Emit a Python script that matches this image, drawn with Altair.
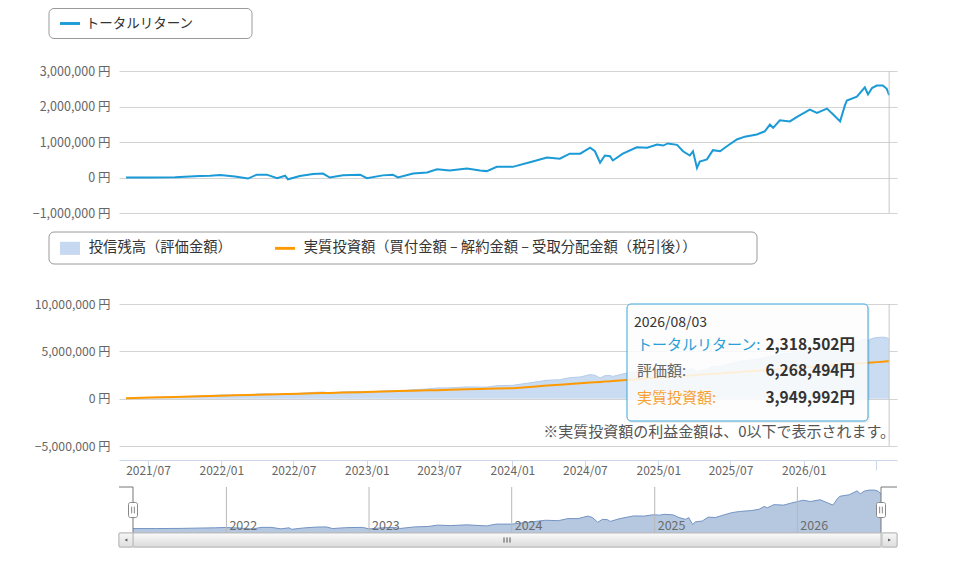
import altair as alt
import pandas as pd

FONT = "Noto Sans CJK JP"

# ---------------- data ----------------
dates = ["2021-05-07","2021-07-06","2021-09-07","2021-11-08","2021-12-04","2021-12-29","2022-02-04","2022-03-09",
         "2022-03-31","2022-04-25","2022-05-21","2022-06-10","2022-06-17","2022-07-17","2022-08-19","2022-09-13",
         "2022-09-30","2022-11-02","2022-12-15","2023-01-01","2023-02-10","2023-03-07","2023-03-20","2023-04-27",
         "2023-06-01","2023-06-26","2023-07-28","2023-09-09","2023-10-12","2023-10-29","2023-11-23","2024-01-02",
         "2024-02-14","2024-03-28","2024-04-29","2024-05-24","2024-06-19","2024-07-14","2024-07-26","2024-08-08",
         "2024-08-20","2024-09-02","2024-09-09","2024-10-04","2024-11-08","2024-12-04","2024-12-29","2025-01-13",
         "2025-01-25","2025-02-17","2025-03-04","2025-03-21","2025-03-29","2025-04-08","2025-04-15","2025-05-03",
         "2025-05-18","2025-06-05","2025-06-22","2025-07-17","2025-08-06","2025-09-05","2025-09-25","2025-10-08",
         "2025-10-16","2025-11-02","2025-11-27","2025-12-15","2026-01-16","2026-02-03","2026-02-28","2026-03-15",
         "2026-04-02","2026-04-14","2026-04-19","2026-05-14","2026-06-03","2026-06-11","2026-06-21","2026-07-03",
         "2026-07-18","2026-07-28","2026-08-03"]

total_return = [0, 0, 10000, 40000, 50000, 70000, 30000, -30000, 80000, 80000,
                -20000, 50000, -50000, 40000, 100000, 110000, 0, 60000, 80000, -20000,
                60000, 80000, 0, 110000, 140000, 230000, 200000, 250000, 200000, 180000,
                300000, 300000, 430000, 560000, 530000, 670000, 670000, 840000, 740000, 420000,
                620000, 600000, 480000, 670000, 850000, 840000, 930000, 900000, 960000, 920000,
                740000, 620000, 740000, 270000, 450000, 510000, 770000, 740000, 880000, 1070000,
                1150000, 1210000, 1300000, 1490000, 1400000, 1610000, 1580000, 1710000, 1910000, 1820000,
                1940000, 1780000, 1580000, 2030000, 2170000, 2280000, 2540000, 2340000, 2520000, 2590000,
                2590000, 2500000, 2318502]

invested = [50000, 120000, 180000, 250000, 280000, 310000, 350000, 380000, 410000, 440000,
            470000, 490000, 490000, 530000, 560000, 590000, 610000, 650000, 690000, 710000,
            750000, 780000, 800000, 840000, 880000, 900000, 940000, 990000, 1020000, 1040000,
            1070000, 1110000, 1240000, 1380000, 1470000, 1550000, 1620000, 1700000, 1730000, 1770000,
            1810000, 1840000, 1870000, 1940000, 2040000, 2130000, 2200000, 2240000, 2280000, 2350000,
            2400000, 2460000, 2470000, 2500000, 2530000, 2580000, 2630000, 2670000, 2730000, 2800000,
            2870000, 2960000, 3010000, 3050000, 3080000, 3120000, 3210000, 3260000, 3350000, 3410000,
            3480000, 3530000, 3580000, 3620000, 3640000, 3710000, 3770000, 3790000, 3830000, 3860000,
            3910000, 3940000, 3949992]

valuation = [50000, 120000, 190000, 290000, 330000, 380000, 380000, 350000, 490000, 520000,
             450000, 540000, 440000, 570000, 660000, 700000, 610000, 710000, 770000, 690000,
             810000, 860000, 800000, 950000, 1020000, 1130000, 1140000, 1240000, 1220000, 1220000,
             1370000, 1410000, 1670000, 1940000, 2000000, 2220000, 2290000, 2540000, 2470000, 2190000,
             2430000, 2440000, 2350000, 2610000, 2890000, 2970000, 3130000, 3140000, 3240000, 3270000,
             3140000, 3080000, 3210000, 2770000, 2980000, 3090000, 3400000, 3410000, 3610000, 3870000,
             4020000, 4170000, 4310000, 4540000, 4480000, 4730000, 4790000, 4970000, 5260000, 5230000,
             5420000, 5310000, 5160000, 5650000, 5810000, 5990000, 6310000, 6130000, 6350000, 6450000,
             6500000, 6440000, 6268494]

nav_years = ["2022-01-01", "2023-01-01", "2024-01-01", "2025-01-01", "2026-01-01"]
nav_year_labels = ["2022", "2023", "2024", "2025", "2026"]
x_tick_months = [(2021, 7), (2022, 1), (2022, 7), (2023, 1), (2023, 7), (2024, 1),
                 (2024, 7), (2025, 1), (2025, 7), (2026, 1), (2026, 7)]
top_ticks = [-1000000, 0, 1000000, 2000000, 3000000]
bottom_ticks = [-5000000, 0, 5000000, 10000000]
legend1_labels = ["トータルリターン"]
legend2_labels = ["投信残高（評価金額）", "実質投資額（買付金額 – 解約金額 – 受取分配金額（税引後））"]
tooltip_labels = ["トータルリターン:", "評価額:", "実質投資額:"]
footnote = "※実質投資額の利益金額は、0以下で表示されます。"

# ---------------- colours ----------------
C_TR = "#1a9ad6"
C_INV = "#ff9900"
C_AREA = "#cadcf2"
C_AREA_LINE = "#b6cce9"
C_NAV_FILL = "#b6c8e0"
C_NAV_LINE = "#7394c4"
C_GRID = "#d3d3d3"
C_LABEL = "#666666"

df = pd.DataFrame({"date": dates, "tr": total_return, "inv": invested, "val": valuation})
end_date = dates[-1]
start_date = dates[0]

# ---------------- scales ----------------
x_main = alt.Scale(domain=[alt.DateTime(year=2021, month=4, date=19, hours=8),
                           alt.DateTime(year=2026, month=8, date=22, hours=17)], nice=False)
x_nav = alt.Scale(domain=[alt.DateTime(year=2021, month=5, date=7),
                          alt.DateTime(year=2026, month=8, date=3)], range=[14, 762], nice=False)
y_top = alt.Scale(domain=[-1000000, 3000000], range=[205, 63], nice=False)
y_bot = alt.Scale(domain=[-5000000, 10000000], range=[438, 296], nice=False)
y_nav = alt.Scale(domain=[-300000, 2800000], range=[525, 479], nice=False)

yen_expr = "format(datum.value, ',') + ' 円'"
top_axis = alt.Axis(values=top_ticks, orient="left", domain=False, ticks=False, grid=True,
                    gridColor=C_GRID, labelExpr=yen_expr, labelFont=FONT, labelFontSize=12.5,
                    labelColor=C_LABEL, labelPadding=9, title=None)
bot_axis = alt.Axis(values=bottom_ticks, orient="left", domain=False, ticks=False, grid=True,
                    gridColor=C_GRID, labelExpr=yen_expr, labelFont=FONT, labelFontSize=12.2,
                    labelColor=C_LABEL, labelPadding=9, title=None)
x_axis = alt.Axis(values=[alt.DateTime(year=y, month=m, date=1) for y, m in x_tick_months],
                  orient="bottom", format="%Y/%m",
                  labelExpr="(year(datum.value) == 2026 && month(datum.value) == 6) ? '' : datum.label",
                  domainColor="#ccd6eb", tickColor="#ccd6eb", tickSize=10, labelPadding=-5,
                  labelFlush=False, labelOverlap=False, labelBound=False, grid=False,
                  labelFont=FONT, labelFontSize=12, labelColor=C_LABEL, title=None)

X = lambda **kw: alt.X("date:T", scale=x_main, **({"axis": None} | kw))
XN = lambda: alt.X("date:T", scale=x_nav, axis=None)

one = pd.DataFrame({"k": [0]})

# ---------------- legend frames ----------------
leg_box1 = alt.Chart(one).mark_rect(cornerRadius=5, fill="white", stroke="#9a9a9a", strokeWidth=1).encode(
    x=alt.value(-70), x2=alt.value(133), y=alt.value(0.5), y2=alt.value(30.5))
leg_box2 = alt.Chart(one).mark_rect(cornerRadius=5, fill="white", stroke="#9a9a9a", strokeWidth=1).encode(
    x=alt.value(-70), x2=alt.value(638), y=alt.value(224), y2=alt.value(256))

# ---------------- top panel ----------------
top_line = alt.Chart(df).mark_line(color=C_TR, strokeWidth=2).encode(
    x=X(), y=alt.Y("tr:Q", scale=y_top, axis=top_axis))
cross_top = alt.Chart(pd.DataFrame({"date": [end_date], "a": [3000000], "b": [-1000000]})).mark_rule(
    color="#c8c8c8").encode(x=X(), y=alt.Y("a:Q", scale=y_top, axis=None), y2="b:Q")

# ---------------- bottom panel ----------------
area = alt.Chart(df).mark_area(color=C_AREA, opacity=1,
                               line={"color": C_AREA_LINE, "strokeWidth": 1}).encode(
    x=X(axis=x_axis), y=alt.Y("val:Q", scale=y_bot, axis=bot_axis), y2=alt.datum(0))
inv_line = alt.Chart(df).mark_line(color=C_INV, strokeWidth=2).encode(
    x=X(), y=alt.Y("inv:Q", scale=y_bot, axis=None))
cross_bot = alt.Chart(pd.DataFrame({"date": [end_date], "a": [10000000], "b": [-5000000]})).mark_rule(
    color="#c8c8c8").encode(x=X(), y=alt.Y("a:Q", scale=y_bot, axis=None), y2="b:Q")
note = alt.Chart(one).mark_text(align="right", baseline="middle", font=FONT, fontSize=15,
                                color="#555555").encode(
    x=alt.value(776), y=alt.value(424), text=alt.value(footnote))

# ---------------- tooltip ----------------
tip_shadow = alt.Chart(one).mark_rect(cornerRadius=4, fill="black", fillOpacity=0.06).encode(
    x=alt.value(509), x2=alt.value(751), y=alt.value(297), y2=alt.value(415))
tip_box = alt.Chart(one).mark_rect(cornerRadius=4, fill="white", fillOpacity=0.85,
                                   stroke="#3aa4d8", strokeWidth=1).encode(
    x=alt.value(508), x2=alt.value(749), y=alt.value(296), y2=alt.value(413))
tip_date = alt.Chart(one).mark_text(align="left", baseline="middle", font=FONT, fontSize=14,
                                    color="#333333").encode(
    x=alt.value(515), y=alt.value(314.5), text=alt.value(end_date.replace("-", "/")))
tip_rows = []
for i, (lab, val, col) in enumerate(zip(tooltip_labels,
                                        [total_return[-1], valuation[-1], invested[-1]],
                                        ["#2a9fd6", "#666666", "#f7a133"])):
    yy = 337 + 26.3 * i
    tip_rows.append(alt.Chart(one).mark_text(align="left", baseline="middle", font=FONT, fontSize=15,
                                             color=col).encode(
        x=alt.value(518), y=alt.value(yy), text=alt.value(lab)))
    tip_rows.append(alt.Chart(one).mark_text(align="right", baseline="middle", font=FONT, fontSize=15.5,
                                             fontWeight="bold", color="#333333").encode(
        x=alt.value(736), y=alt.value(yy), text=alt.value(f"{val:,}円")))

# ---------------- navigator ----------------
nav_area = alt.Chart(df).mark_area(color=C_NAV_FILL, opacity=1,
                                   line={"color": C_NAV_LINE, "strokeWidth": 1}).encode(
    x=XN(), y=alt.Y("tr:Q", scale=y_nav, axis=None), y2=alt.datum(-300000))
yrs = pd.DataFrame({"date": nav_years, "lab": nav_year_labels})
nav_grid = alt.Chart(yrs).mark_rule(color="#b8b8b8", strokeWidth=1).encode(
    x=XN(), y=alt.value(479), y2=alt.value(525))
nav_text = alt.Chart(yrs).mark_text(align="left", baseline="alphabetic", dx=3, font=FONT,
                                    fontSize=12.5, color="#6b6b6b").encode(
    x=XN(), y=alt.value(522), text="lab:N")
ends = pd.DataFrame({"date": [start_date, end_date]})
nav_vert = alt.Chart(ends).mark_rule(color="#777777").encode(
    x=XN(), y=alt.value(479), y2=alt.value(525))
nav_top_l = alt.Chart(ends.iloc[[0]]).mark_rule(color="#777777").encode(
    x=XN(), x2=alt.value(0), y=alt.value(479))
nav_top_r = alt.Chart(ends.iloc[[1]]).mark_rule(color="#777777").encode(
    x=XN(), x2=alt.value(778), y=alt.value(479))

# scrollbar
def grad(c1, c2):
    return alt.Gradient(gradient="linear", x1=0, x2=0, y1=0, y2=1,
                        stops=[alt.GradientStop(color=c1, offset=0), alt.GradientStop(color=c2, offset=1)])

sb_track = alt.Chart(one).mark_rect(fill="#f2f2f2", stroke="#bbbbbb", strokeWidth=1).encode(
    x=alt.value(0), x2=alt.value(778), y=alt.value(525), y2=alt.value(539))
sb_thumb = alt.Chart(pd.DataFrame({"date": [start_date], "date2": [end_date]})).mark_rect(
    cornerRadius=2, stroke="#bbbbbb", strokeWidth=1, fill=grad("#fbfbfb", "#dadada")).encode(
    x=XN(), x2="date2:T", y=alt.value(525), y2=alt.value(539))
btn_l = alt.Chart(one).mark_rect(cornerRadius=2, stroke="#bbbbbb", strokeWidth=1,
                                 fill=grad("#f6f6f6", "#dedede")).encode(
    x=alt.value(0), x2=alt.value(14), y=alt.value(525), y2=alt.value(539))
btn_r = alt.Chart(one).mark_rect(cornerRadius=2, stroke="#bbbbbb", strokeWidth=1,
                                 fill=grad("#f6f6f6", "#dedede")).encode(
    x=alt.value(763), x2=alt.value(778), y=alt.value(525), y2=alt.value(539))
arr_l = alt.Chart(one).mark_point(shape="triangle-left", size=10, filled=True, color="#555555",
                                  opacity=1).encode(x=alt.value(7), y=alt.value(532))
arr_r = alt.Chart(one).mark_point(shape="triangle-right", size=10, filled=True, color="#555555",
                                  opacity=1).encode(x=alt.value(770.5), y=alt.value(532))
grip = alt.Chart(one).mark_point(shape="M-0.75,-0.65V0.65M0,-0.65V0.65M0.75,-0.65V0.65", size=64,
                                 filled=False, stroke="#555555", strokeWidth=1, opacity=1).encode(
    x=alt.value(388), y=alt.value(532))

HANDLE = ("M-0.35,-1H0.35A0.25,0.25 0 0 1 0.6,-0.75V0.75A0.25,0.25 0 0 1 0.35,1"
          "H-0.35A0.25,0.25 0 0 1 -0.6,0.75V-0.75A0.25,0.25 0 0 1 -0.35,-1Z")
handles = alt.Chart(ends).mark_point(shape=HANDLE, size=225, fill="white", filled=True,
                                     stroke="#888888", strokeWidth=1, opacity=1).encode(
    x=XN(), y=alt.value(502))
handle_grip = alt.Chart(ends).mark_point(shape="M-0.18,-0.45V0.45M0.18,-0.45V0.45", size=225,
                                         filled=False, stroke="#888888", strokeWidth=1,
                                         opacity=1).encode(x=XN(), y=alt.value(502))

# ---------------- legends (hidden point layers driving real legends) ----------------
LINE_SYM = "M-0.6,-0.18H1.9V0.18H-0.6Z"
SQ_SYM = "M-0.6,-0.82H1.9V0.82H-0.6Z"
leg_common = dict(orient="none", title=None, strokeColor="transparent", fillColor="transparent",
                  padding=6, labelFont=FONT, labelColor="#333333", labelLimit=2000,
                  symbolSize=256, symbolStrokeWidth=0, symbolOpacity=1)
legend1 = alt.Legend(legendX=-68.2, legendY=1.5, symbolType=LINE_SYM, labelOffset=13,
                     labelFontSize=13.5, **leg_common)
legend2 = alt.Legend(legendX=-68.2, legendY=226, direction="horizontal", columns=2, columnPadding=40,
                     labelOffset=16, labelFontSize=14.3, **leg_common)
leg1 = alt.Chart(pd.DataFrame({"s": legend1_labels})).transform_filter("false").mark_point(
    filled=True, opacity=1).encode(
    color=alt.Color("s:N", scale=alt.Scale(domain=legend1_labels, range=[C_TR]), legend=legend1))
leg2 = alt.Chart(pd.DataFrame({"s": legend2_labels})).transform_filter("false").mark_point(
    filled=True, opacity=1).encode(
    color=alt.Color("s:N", scale=alt.Scale(domain=legend2_labels, range=["#c6d9f1", C_INV]), legend=legend2),
    shape=alt.Shape("s:N", scale=alt.Scale(domain=legend2_labels, range=[SQ_SYM, LINE_SYM]), legend=legend2))

layers = [leg_box1, leg_box2, top_line, cross_top, area, inv_line, cross_bot, note,
          tip_shadow, tip_box, tip_date, *tip_rows,
          nav_area, nav_grid, nav_text, nav_vert, nav_top_l, nav_top_r,
          sb_track, sb_thumb, btn_l, btn_r, arr_l, arr_r, grip, handles, handle_grip,
          leg1, leg2]

chart = alt.layer(*layers).resolve_scale(
    x="independent", y="independent", color="independent", shape="independent"
).resolve_legend(color="independent", shape="independent").properties(
    width=778, height=452,
    padding={"left": 111, "top": 0, "right": 40, "bottom": 90},
    autosize=alt.AutoSizeParams(type="none"),
).configure(font=FONT, background="white").configure_view(stroke=None)

chart.save("out.html", embed_options={"renderer": "svg", "actions": False})
